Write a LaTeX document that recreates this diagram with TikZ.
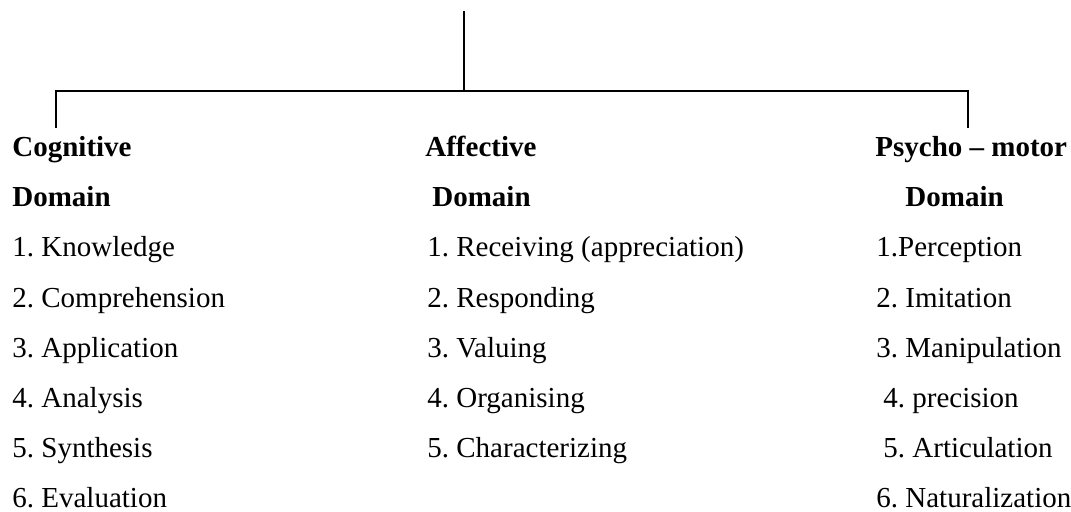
\documentclass[tikz,border=0pt]{standalone}
\usepackage{fontspec}
\setmainfont{Liberation Serif}
\usepackage{tikz}
\frenchspacing

\tikzset{
	dom/.style={anchor=base west, inner sep=0pt, font=\fontsize{14.5}{17}\selectfont\bfseries},
	lvl/.style={anchor=base west, inner sep=0pt, font=\fontsize{14.5}{17}\selectfont},
	tree/.style={line width=1pt}
}

\begin{document}
\begin{tikzpicture}[x=0.5pt,y=-0.5pt]
	\useasboundingbox (0,0) rectangle (1071,512);
	%%%branch points
	\coordinate (root) at (464,11);
	\coordinate (hub) at (464,91);
	\coordinate (cogtop) at (56,91);
	\coordinate (cogend) at (56,128);
	\coordinate (psytop) at (968,91);
	\coordinate (psyend) at (968,128);
	%%%nodes
	%cognitive
	\node[dom] at (12,157) (cog){Cognitive};
	\node[dom] at (12,207) (cogD){Domain};
	\node[lvl] at (12,257) (cog1){1. Knowledge};
	\node[lvl] at (12,308) (cog2){2. Comprehension};
	\node[lvl] at (12,358) (cog3){3. Application};
	\node[lvl] at (12,408) (cog4){4. Analysis};
	\node[lvl] at (12,458) (cog5){5. Synthesis};
	\node[lvl] at (12,508) (cog6){6. Evaluation};
	%affective
	\node[dom] at (425,157) (aff){Affective};
	\node[dom] at (432,207) (affD){Domain};
	\node[lvl] at (427,257) (aff1){1. Receiving (appreciation)};
	\node[lvl] at (427,308) (aff2){2. Responding};
	\node[lvl] at (427,358) (aff3){3. Valuing};
	\node[lvl] at (427,408) (aff4){4. Organising};
	\node[lvl] at (427,458) (aff5){5. Characterizing};
	%psycho-motor
	\node[dom] at (875,157) (psy){Psycho -- motor};
	\node[dom] at (905,207) (psyD){Domain};
	\node[lvl] at (876,257) (psy1){1.Perception};
	\node[lvl] at (876,308) (psy2){2. Imitation};
	\node[lvl] at (876,358) (psy3){3. Manipulation};
	\node[lvl] at (883,408) (psy4){4. precision};
	\node[lvl] at (883,458) (psy5){5. Articulation};
	\node[lvl] at (876,508) (psy6){6. Naturalization};
	%%%links
	\draw[tree] (root) -- (hub);
	\draw[tree] (cogend) -- (cogtop) -- (psytop) -- (psyend);
\end{tikzpicture}
\end{document}
